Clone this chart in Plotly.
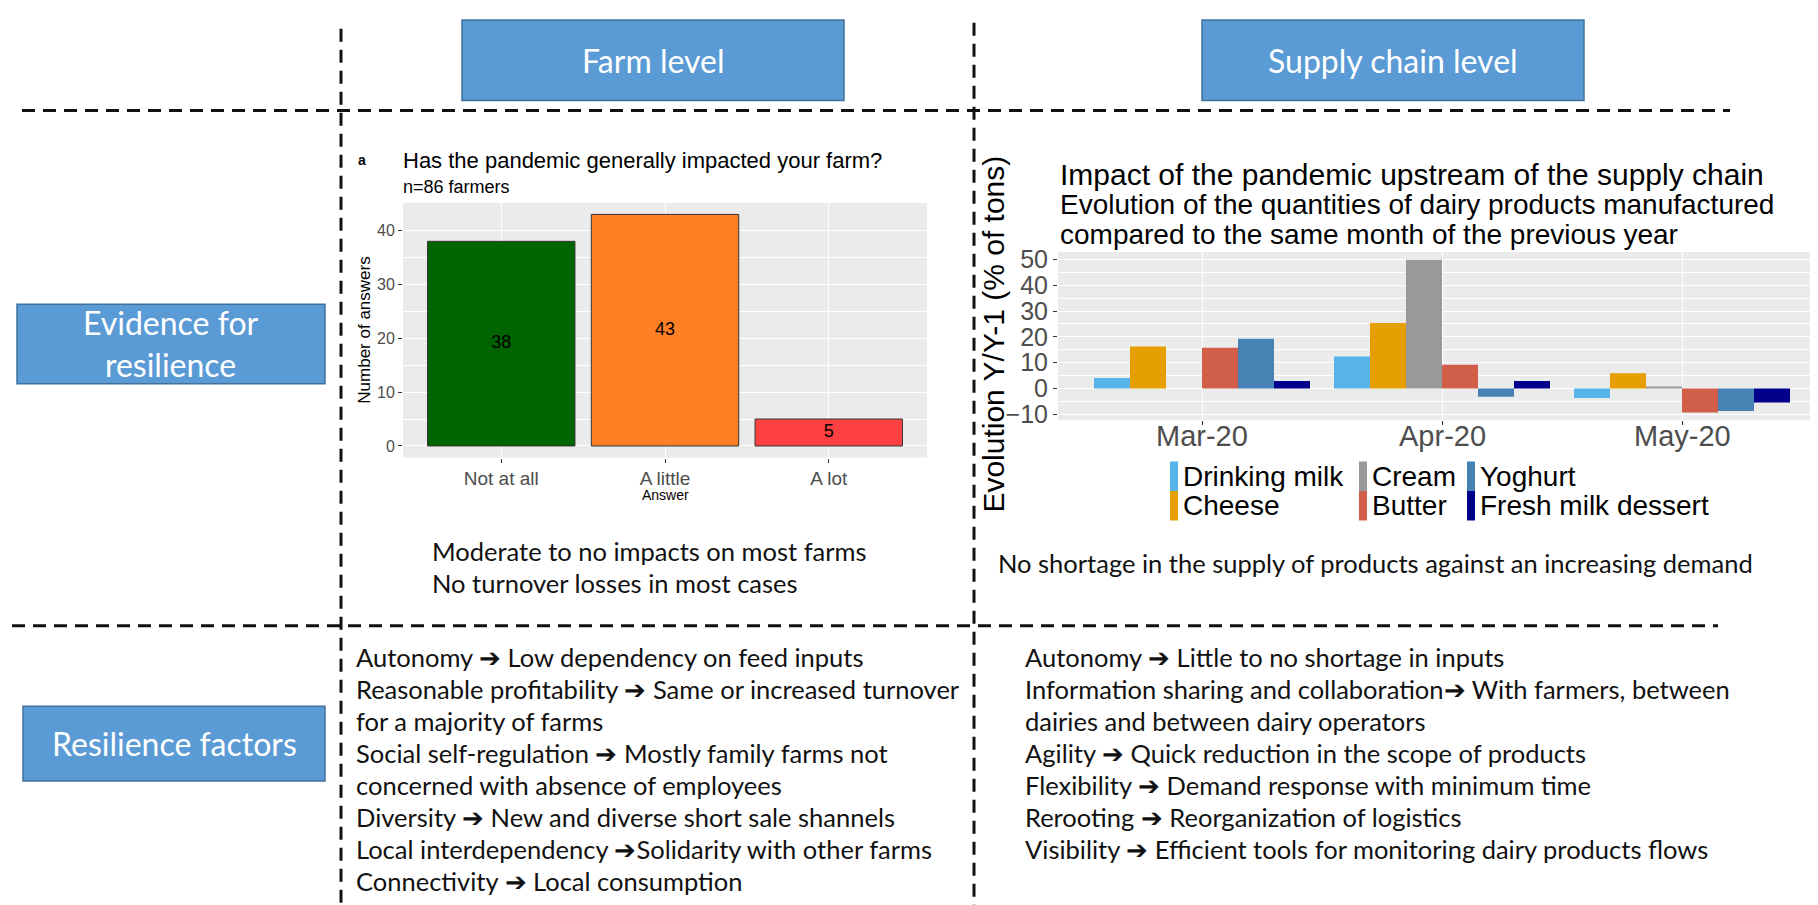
import plotly.graph_objects as go

W, H = 1818, 905

# ---------------- data ----------------
# Farm-level survey chart
answers = ["Not at all", "A little", "A lot"]
answer_counts = [38, 43, 5]
answer_colors = ["#006400", "#FF7F24", "#FF4040"]
left_yticks = [0, 10, 20, 30, 40]

# Supply-chain chart (evolution Y/Y-1, % of tons)
months = ["Mar-20", "Apr-20", "May-20"]
products = ["Drinking milk", "Cheese", "Cream", "Butter", "Yoghurt", "Fresh milk dessert"]
drinking_milk = [4.1, 12.4, -3.7]
cheese = [16.3, 25.4, 5.9]
cream = [None, 49.9, 0.8]
butter = [15.8, 9.2, -9.3]
yoghurt = [19.3, -3.2, -8.7]
fresh_milk_dessert = [2.9, 2.9, -5.4]
product_colors = ["#56B4E9", "#E69F00", "#999999", "#D05E48", "#4682B4", "#00008B"]
right_yticks = [-10, 0, 10, 20, 30, 40, 50]

# Text content
col_headers = ["Farm level", "Supply chain level"]
row_headers = ["Evidence for<br>resilience", "Resilience factors"]
left_title = "Has the pandemic generally impacted your farm?"
left_subtitle = "n=86 farmers"
right_title = "Impact of the pandemic upstream of the supply chain"
right_subtitle_lines = ["Evolution of the quantities of dairy products manufactured",
                        "compared to the same month of the previous year"]
farm_evidence = ["Moderate to no impacts on most farms",
                 "No turnover losses in most cases"]
chain_evidence = ["No shortage in the supply of products against an increasing demand"]
farm_factors = ["Autonomy \u2794 Low dependency on feed inputs",
                "Reasonable profitability \u2794 Same or increased turnover",
                "for a majority of farms",
                "Social self-regulation \u2794 Mostly family farms not",
                "concerned with absence of employees",
                "Diversity \u2794 New and diverse short sale shannels",
                "Local interdependency \u2794Solidarity with other farms",
                "Connectivity \u2794 Local consumption"]
chain_factors = ["Autonomy \u2794 Little to no shortage in inputs",
                 "Information sharing and collaboration\u2794 With farmers, between",
                 "dairies and between dairy operators",
                 "Agility \u2794 Quick reduction in the scope of products",
                 "Flexibility \u2794 Demand response with minimum time",
                 "Rerooting \u2794 Reorganization of logistics",
                 "Visibility \u2794 Efficient tools for monitoring dairy products flows"]

series_values = [drinking_milk, cheese, cream, butter, yoghurt, fresh_milk_dessert]

# ---------------- helpers ----------------
def px(x):
    return x / W


def py(y):
    return 1 - y / H


ARIAL = "Liberation Sans, Arial, sans-serif"
CALIBRI = "Lato, Carlito, Calibri, sans-serif"
BOX_FILL = "#5B9BD5"
BOX_LINE = "#41719C"
TICK_GREY = "#4D4D4D"

fig = go.Figure()

# ---------------- left chart ----------------
fig.add_trace(go.Bar(
    x=answers, y=answer_counts,
    marker=dict(color=answer_colors, line=dict(color="#333333", width=1)),
    xaxis="x", yaxis="y", showlegend=False, hoverinfo="x+y"))
fig.add_trace(go.Scatter(
    x=answers, y=[v / 2 for v in answer_counts],
    text=[str(v) for v in answer_counts], mode="text",
    textfont=dict(family=ARIAL, size=18, color="black"),
    xaxis="x", yaxis="y", showlegend=False, hoverinfo="skip"))

# ---------------- right chart ----------------
for name, vals, col in zip(products, series_values, product_colors):
    fig.add_trace(go.Bar(
        x=months, y=vals, name=name, marker=dict(color=col, line=dict(width=0)),
        xaxis="x2", yaxis="y2", showlegend=False))

shapes = []
annotations = []

grid_common = dict(showgrid=True, gridcolor="white", zeroline=False, showline=False,
                   ticks="outside", ticklen=4, tickcolor="#333333", tickwidth=1,
                   fixedrange=True)

left_ymin, left_ymax = -2.15, 45.15
right_ymin, right_ymax = -12.26, 52.86

fig.update_layout(
    width=W, height=H, margin=dict(l=0, r=0, t=0, b=0),
    paper_bgcolor="white", plot_bgcolor="#EBEBEB",
    barmode="group", bargap=0.1, bargroupgap=0,
    xaxis=dict(domain=[px(395), px(919)], anchor="y", type="category",
               range=[-0.6, 2.6], gridwidth=1.2,
               tickfont=dict(family=ARIAL, size=19, color=TICK_GREY), **grid_common),
    yaxis=dict(domain=[py(450), py(191)], anchor="x", range=[left_ymin, left_ymax],
               tickvals=left_yticks, gridwidth=1.2,
               minor=dict(dtick=5, tick0=0, showgrid=True, gridcolor="white", gridwidth=0.6),
               tickfont=dict(family=ARIAL, size=16, color=TICK_GREY), **grid_common),
    xaxis2=dict(domain=[px(1050), 1.0], anchor="y2", type="category",
                range=[-0.6, 2.6], gridwidth=1.2, showticklabels=False, **grid_common),
    yaxis2=dict(domain=[py(412), py(241)], anchor="x2", range=[right_ymin, right_ymax],
                tickvals=right_yticks, gridwidth=1.2,
                minor=dict(dtick=5, tick0=0, showgrid=True, gridcolor="white", gridwidth=0.6),
                tickfont=dict(family=ARIAL, size=25, color=TICK_GREY), **grid_common),
)

# month labels of the right chart, placed on the category axis
for m in months:
    annotations.append(dict(x=m, y=py(428), xref="x2", yref="paper", text=m,
                            showarrow=False, xanchor="center", yanchor="middle",
                            font=dict(family=ARIAL, size=29, color=TICK_GREY)))

# ---------------- dashed grid lines ----------------
dash = "13px,8px"
line_style = dict(color="#111111", width=3, dash=dash)
for (x0, y0, x1, y1) in [(333, 14, 333, 905), (966, 8, 966, 905),
                         (14, 97, 1722, 97), (4, 621, 1710, 621)]:
    shapes.append(dict(type="line", xref="paper", yref="paper",
                       x0=px(x0), y0=py(y0), x1=px(x1), y1=py(y1), line=line_style))

# ---------------- header boxes ----------------
boxes = [(454, 5, 836, 87, col_headers[0], (645, 46)),
         (1194, 5, 1576, 87, col_headers[1], (1385, 46)),
         (9, 294, 317, 375, row_headers[0], (163, 334)),
         (15, 703, 317, 779, row_headers[1], (166, 741))]
for (x0, y0, x1, y1, label, (tx, ty)) in boxes:
    shapes.append(dict(type="rect", xref="paper", yref="paper",
                       x0=px(x0), y0=py(y1), x1=px(x1), y1=py(y0),
                       fillcolor=BOX_FILL, line=dict(color=BOX_LINE, width=1.5)))
    annotations.append(dict(x=px(tx), y=py(ty), xref="paper", yref="paper",
                            text=label, showarrow=False, xanchor="center", yanchor="middle",
                            font=dict(family=CALIBRI, size=32, color="white")))

# ---------------- left chart labels ----------------
annotations.append(dict(x=px(354), y=py(147), xref="paper", yref="paper", text="<b>a</b>",
                        showarrow=False, xanchor="center", yanchor="middle",
                        font=dict(family=ARIAL, size=14, color="black")))
annotations.append(dict(x=px(393), y=py(148), xref="paper", yref="paper", text=left_title,
                        showarrow=False, xanchor="left", yanchor="middle",
                        font=dict(family=ARIAL, size=22, color="black")))
annotations.append(dict(x=px(393), y=py(175), xref="paper", yref="paper", text=left_subtitle,
                        showarrow=False, xanchor="left", yanchor="middle",
                        font=dict(family=ARIAL, size=18, color="black")))
annotations.append(dict(x=px(357), y=py(321), xref="paper", yref="paper", text="Number of answers",
                        showarrow=False, xanchor="center", yanchor="middle", textangle=-90,
                        font=dict(family=ARIAL, size=17, color="black")))
annotations.append(dict(x=px(657), y=py(488), xref="paper", yref="paper", text="Answer",
                        showarrow=False, xanchor="center", yanchor="middle",
                        font=dict(family=ARIAL, size=14, color="black")))

# ---------------- right chart labels ----------------
annotations.append(dict(x=px(1050), y=py(162), xref="paper", yref="paper", text=right_title,
                        showarrow=False, xanchor="left", yanchor="middle",
                        font=dict(family=ARIAL, size=30, color="black")))
for i, line in enumerate(right_subtitle_lines):
    annotations.append(dict(x=px(1050), y=py(193 + 30 * i), xref="paper", yref="paper", text=line,
                            showarrow=False, xanchor="left", yanchor="middle",
                            font=dict(family=ARIAL, size=28, color="black")))
annotations.append(dict(x=px(986), y=py(325), xref="paper", yref="paper",
                        text="Evolution Y/Y-1 (% of tons)",
                        showarrow=False, xanchor="center", yanchor="middle", textangle=-90,
                        font=dict(family=ARIAL, size=30, color="black")))

# manual ggplot-style legend (2 rows, filled by column)
key_x = [1162, 1351, 1459]
row_y = [469, 499]
key_h = 30
for i, (name, col) in enumerate(zip(products, product_colors)):
    c, r = i // 2, i % 2
    kx = key_x[c]
    ky = row_y[r]
    shapes.append(dict(type="rect", xref="paper", yref="paper",
                       x0=px(kx), x1=px(kx + 8), y0=py(ky + key_h / 2), y1=py(ky - key_h / 2),
                       fillcolor=col, line=dict(width=0)))
    annotations.append(dict(x=px(kx + 11), y=py(ky), xref="paper", yref="paper", text=name,
                            showarrow=False, xanchor="left", yanchor="middle",
                            font=dict(family=ARIAL, size=28, color="black")))

# ---------------- text blocks ----------------
def text_block(lines, x0, y0, step, size):
    for i, line in enumerate(lines):
        annotations.append(dict(x=px(x0), y=py(y0 + step * i), xref="paper", yref="paper",
                                text=line, showarrow=False, xanchor="left", yanchor="middle",
                                font=dict(family=CALIBRI, size=size, color="#111111")))


text_block(farm_evidence, 422, 545, 32.3, 25.5)
text_block(chain_evidence, 988, 557, 32.3, 25.5)
text_block(farm_factors, 346, 653, 32.5, 25.5)
text_block(chain_factors, 1015, 653, 32.5, 25.5)

fig.update_layout(shapes=shapes, annotations=annotations)
fig.write_html("out.html")
